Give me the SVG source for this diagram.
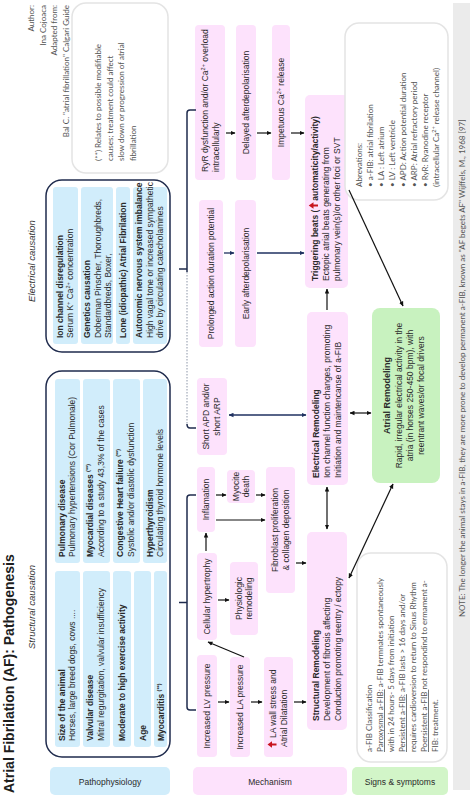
<svg xmlns="http://www.w3.org/2000/svg" width="474" height="797" viewBox="0 0 474 797">
<defs>
<style>
text{font-family:"Liberation Sans",Arial,sans-serif;fill:#2a2a2a}
.s{font-size:8.5px}
.b{font-weight:bold}
.g{font-family:Lato,"Liberation Sans",sans-serif;font-size:8px;fill:#555}
.ttl{font-size:14px;font-weight:bold;fill:#1e1e1e}
.lbl{font-size:9.5px;font-style:italic;fill:#333}
.strip{fill:#d1edfb}
.pk{fill:#fde2fc}
.cbox{fill:#fff;stroke:#1f2b4d;stroke-width:1.5}
.nbox{fill:#fff;stroke:#e4e4e4;stroke-width:1.5}
.sup{font-size:5.5px}
.c{text-anchor:middle}
.u{text-decoration:underline}
.ar{fill:none;stroke:#111;stroke-width:1.2;marker-end:url(#ah)}
.ar2{fill:none;stroke:#111;stroke-width:1.2;marker-end:url(#ah);marker-start:url(#ah)}
.nv{fill:none;stroke:#1f3160;stroke-width:1.3;marker-end:url(#an)}
.nv2{fill:none;stroke:#1f3160;stroke-width:1.3;marker-end:url(#an);marker-start:url(#an)}
.br{fill:none;stroke:#1f2b4d;stroke-width:1.5}
.dot{fill:none;stroke:#8d96a8;stroke-width:1;stroke-dasharray:1.5 1.5}
.up{fill:#c8141e}
</style>
<marker id="ah" viewBox="0 0 10 10" refX="9" refY="5" markerWidth="5" markerHeight="5" markerUnits="userSpaceOnUse" orient="auto-start-reverse"><path d="M0,0.5 L10,5 L0,9.5z" fill="#111"/></marker>
<marker id="an" viewBox="0 0 10 10" refX="9" refY="5" markerWidth="5" markerHeight="5" markerUnits="userSpaceOnUse" orient="auto-start-reverse"><path d="M0,0.5 L10,5 L0,9.5z" fill="#1f3160"/></marker>
</defs>
<rect width="474" height="797" fill="#fff"/>

<!-- main sheet, laid out left-to-right and turned a quarter turn counter-clockwise -->
<g transform="matrix(0,-1,1,0,0,797)">

<g id="title"><text x="4" y="14" class="ttl">Atrial Fibrilation (AF): Pathogenesis</text></g>
<g id="author" class="g">
<text x="792" y="34" text-anchor="end" class="g">Author:</text>
<text x="792" y="45.5" text-anchor="end" class="g">Ina Cojoaca</text>
<text x="792" y="57" text-anchor="end" class="g">Adapted from:</text>
<text x="792" y="68.5" text-anchor="end" class="g">Bal C. "atrial fibrillation" Calgari Guide</text>
</g>

<!-- structural causes -->
<g id="structural-causation">
<text x="190" y="35" class="lbl c">Structural causation</text>
<rect x="40" y="46" width="386" height="124" rx="16" class="cbox"/>
<rect x="50" y="55" width="176" height="25" rx="3" class="strip"/>
<text x="56" y="64.5" class="s b">Size of the animal</text>
<text x="56" y="75" class="s">Horses, large breed dogs, cows ....</text>
<rect x="50" y="83" width="176" height="27" rx="3" class="strip"/>
<text x="56" y="93" class="s b">Valvular disease</text>
<text x="56" y="104" class="s">Mitral regurgitation, valvular insufficiency</text>
<rect x="50" y="113" width="176" height="18" rx="3" class="strip"/>
<text x="56" y="125" class="s b">Moderate to high exercise activity</text>
<rect x="50" y="134" width="176" height="17" rx="3" class="strip"/>
<text x="56" y="145.5" class="s b">Age</text>
<rect x="50" y="154" width="176" height="13" rx="3" class="strip"/>
<text x="56" y="163.5" class="s b">Myocarditis <tspan class="sup" baseline-shift="super">(**)</tspan></text>

<rect x="234" y="55" width="184" height="25" rx="3" class="strip"/>
<text x="240" y="64.5" class="s b">Pulmonary disease</text>
<text x="240" y="75" class="s">Pulmonary hypertensions (Cor Pulmonale)</text>
<rect x="234" y="83" width="184" height="27" rx="3" class="strip"/>
<text x="240" y="93" class="s b">Myocardial diseases <tspan class="sup" baseline-shift="super">(**)</tspan></text>
<text x="240" y="104" class="s">According to a study 43,3% of the cases</text>
<rect x="234" y="113" width="184" height="27" rx="3" class="strip"/>
<text x="240" y="123" class="s b">Congestive Heart failure <tspan class="sup" baseline-shift="super">(**)</tspan></text>
<text x="240" y="134" class="s">Systolic and/or diastolic dysfunction</text>
<rect x="234" y="143" width="184" height="24" rx="3" class="strip"/>
<text x="240" y="152.5" class="s b">Hyperthyroidism</text>
<text x="240" y="163" class="s">Circulating thyroid hormone levels</text>
</g>

<!-- electrical causes -->
<g id="electrical-causation">
<text x="536" y="35" class="lbl c">Electrical causation</text>
<rect x="445" y="46" width="172" height="124" rx="16" class="cbox"/>
<rect x="453" y="53" width="157" height="25" rx="3" class="strip"/>
<text x="459" y="62.5" class="s b">Ion channel disregulation</text>
<text x="459" y="73" class="s">Serum K<tspan class="sup" baseline-shift="super">+</tspan> Ca<tspan class="sup" baseline-shift="super">2+</tspan> concentration</text>
<rect x="453" y="81" width="157" height="32" rx="3" class="strip"/>
<text x="459" y="90" class="s b">Genetics causation</text>
<text x="459" y="100.5" class="s">Doberman Pinscher, Thoroughbreds,</text>
<text x="459" y="110.5" class="s">Standardbreds, Boxer,</text>
<rect x="453" y="116" width="157" height="14" rx="3" class="strip"/>
<text x="459" y="126" class="s b">Lone (idiopathic) Atrial Fibrilation</text>
<rect x="453" y="133" width="157" height="34" rx="3" class="strip"/>
<text x="459" y="142" class="s b">Autonomic nervous system imbalance</text>
<text x="459" y="152.5" class="s">High vagal tone or increased sympathetic</text>
<text x="459" y="163" class="s">drive by circulating catecholamines</text>
</g>

<g id="modifiable-note">
<rect x="624" y="72" width="170" height="96" rx="14" class="nbox"/>
<text x="636" y="101" class="g">(**) Relates to possible modifiable</text>
<text x="636" y="112.5" class="g">causes; treatment could affect</text>
<text x="636" y="124" class="g">slow down or progression of atrial</text>
<text x="636" y="135.5" class="g">fibrillation</text>
</g>

<!-- mechanism boxes -->
<g id="lv-pressure"><rect x="40" y="197" width="102" height="20" rx="4" class="pk"/><text x="91" y="210" class="s c">Increased LV pressure</text></g>
<g id="la-pressure"><rect x="40" y="230" width="100" height="20" rx="4" class="pk"/><text x="90" y="243" class="s c">Increased LA pressure</text></g>
<g id="la-wall-stress"><rect x="40" y="264" width="100" height="29" rx="4" class="pk"/>
<path class="up" d="M51.5,276.5 h2 v-4.5 h2.2 l-3.2,-4.5 l-3.2,4.5 h2.2z"/>
<text x="59" y="276" class="s">LA wall stress and</text><text x="50" y="287" class="s">Atrial Dilatation</text></g>
<g id="cellular-hypertrophy"><rect x="157" y="197" width="87" height="20" rx="4" class="pk"/><text x="200.5" y="210" class="s c">Cellular hypertrophy</text></g>
<g id="physiologic-remodeling"><rect x="162" y="230" width="73" height="28" rx="4" class="pk"/><text x="198.5" y="241.5" class="s c">Physiologic</text><text x="198.5" y="252" class="s c">remodeling</text></g>
<g id="inflamation"><rect x="265" y="197" width="65" height="18" rx="4" class="pk"/><text x="297.5" y="209" class="s c">Inflamation</text></g>
<g id="myocite-death"><rect x="294" y="227" width="33" height="28" rx="4" class="pk"/><text x="310.5" y="238.5" class="s c">Myocite</text><text x="310.5" y="249" class="s c">death</text></g>
<g id="fibroblast"><rect x="204" y="266" width="126" height="29" rx="4" class="pk"/><text x="267" y="278" class="s c">Fibroblast proliferation</text><text x="267" y="289" class="s c">&amp; collagen deposition</text></g>
<g id="short-apd"><rect x="342" y="197" width="77" height="30" rx="4" class="pk"/><text x="380.5" y="209" class="s c">Short APD and/or</text><text x="380.5" y="220" class="s c">short ARP</text></g>
<g id="prolonged-ap"><rect x="450" y="199" width="147" height="24" rx="4" class="pk"/><text x="523.5" y="214" class="s c">Prolonged action duration potential</text></g>
<g id="early-ad"><rect x="450" y="235" width="147" height="21" rx="4" class="pk"/><text x="523.5" y="248.5" class="s c">Early afterdepolarisation</text></g>
<g id="ryr"><rect x="617" y="195" width="155" height="30" rx="4" class="pk"/><text x="625" y="207.5" class="s">RyR dysfunction and/or Ca<tspan class="sup" baseline-shift="super">2+</tspan> overload</text><text x="625" y="218.5" class="s">intracellularly</text></g>
<g id="delayed-ad"><rect x="617" y="236" width="155" height="20" rx="4" class="pk"/><text x="694.5" y="249" class="s c">Delayed afterdepolarisation</text></g>
<g id="ca-release"><rect x="617" y="272" width="155" height="18" rx="4" class="pk"/><text x="694.5" y="284" class="s c">Impetuous Ca<tspan class="sup" baseline-shift="super">2+</tspan> release</text></g>

<g id="triggering"><rect x="509" y="305" width="193" height="43" rx="5" class="pk"/>
<text x="516" y="317.5" class="s b">Triggering beats (<tspan dx="9">automaticity/activity)</tspan></text>
<path class="up" d="M590.5,318 h2 v-4.5 h2.2 l-3.2,-4.8 l-3.2,4.8 h2.2z"/>
<text x="516" y="329" class="s">Ectopic atrial beats generating from</text>
<text x="516" y="340" class="s">pulmonary vein(s)/or other foci or SVT</text></g>
<g id="electrical-remodeling"><rect x="312" y="307" width="173" height="41" rx="5" class="pk"/>
<text x="319" y="318.5" class="s b">Electrical Remodeling</text>
<text x="319" y="330" class="s">Ion channel function changes, promoting</text>
<text x="319" y="341" class="s">Initiation and maintencanse of a-FIB</text></g>
<g id="structural-remodeling"><rect x="67" y="307" width="198" height="40" rx="5" class="pk"/>
<text x="76" y="318.5" class="s b">Structural Remodeling</text>
<text x="76" y="330" class="s">Development of fibrosis affecting</text>
<text x="76" y="341" class="s">Conduction promoting reentry / ectopy</text></g>

<g id="atrial-remodeling"><rect x="314" y="372" width="175" height="68" rx="8" fill="#c8f2bf"/>
<text x="401.5" y="390" class="c b" font-size="9">Atrial Remodeling</text>
<text x="401.5" y="402" class="s c">Rapid, irregular electrical activity in the</text>
<text x="401.5" y="413" class="s c">atria (in horses 250-450 bpm), with</text>
<text x="401.5" y="424" class="s c">reentrant waves/or focal drivers</text></g>

<g id="abbreviations"><rect x="597" y="345" width="177" height="103" rx="14" class="nbox"/>
<text x="610" y="362" class="g">Abrevations:</text>
<text x="610" y="373" class="g">• a-FIB: atrial fibrilation</text>
<text x="610" y="384" class="g">• LA : Left atrium</text>
<text x="610" y="395" class="g">• LV : Left ventricle</text>
<text x="610" y="406" class="g">• APD: Action potential duration</text>
<text x="610" y="417" class="g">• ARP: Atrial refractory period</text>
<text x="610" y="428" class="g">• RyR: Ryanodine receptor</text>
<text x="610" y="439" class="g">(intracellular Ca<tspan class="sup" baseline-shift="super">2+</tspan> release channel)</text></g>

<g id="afib-classification"><rect x="35" y="357" width="209" height="90" rx="14" class="nbox"/>
<text x="45" y="372" class="g">a-FIB Classification</text>
<text x="45" y="383" class="g"><tspan class="u">Paroxysmal a-FIB:</tspan> a-FIB termnates spontaneously</text>
<text x="45" y="394" class="g">with in 24 hours- 5 days from initiation</text>
<text x="45" y="405" class="g"><tspan class="u">Persistent a-FIB:</tspan> a-FIB lasts &gt; 16 days and/or</text>
<text x="45" y="416" class="g">requires cardioversion to return to Sinus Rhythm</text>
<text x="45" y="427" class="g"><tspan class="u">Poersistent a-FIB </tspan>not respondind to ermament a-</text>
<text x="45" y="438" class="g">FIB: treatment.</text></g>

<g id="note-strip"><rect x="7" y="453" width="787" height="17" fill="#ebebeb"/>
<text x="180" y="464.5" class="g" font-size="7.8">NOTE: The longer the animal stays in a-FIB, they are more prone to develop permanent a-FIB, known as "AF begets AF" Wijffels, M., 1968 [97]</text></g>

<!-- connectors -->
<g id="connectors">
<path class="br" d="M687,196 V190 Q687,187 684,187 H525"/>
<path class="br" d="M528,187 V179"/>
<path class="dot" d="M525,187 H373"/>
<path class="br" d="M373,187 Q369,187 369,190 V196"/>
<path class="br" d="M302,196 V190 Q302,187 299,187 H90 Q87,187 87,190 V196"/>
<path class="br" d="M194.5,187 V179"/>

<path class="ar" d="M95,218 V229"/>
<path class="ar" d="M95,251 V262"/>
<path class="ar" d="M95,294 V306"/>
<path class="ar" d="M140,244 L155,208"/>
<path class="ar" d="M197,218 V229"/>
<path class="ar" d="M246,206 H264"/>
<path class="ar" d="M302,216 V226"/>
<path class="ar" d="M302,256 V265"/>
<path class="ar" d="M277,216 V265"/>
<path class="ar" d="M234,296 V306"/>
<path class="nv2" d="M382,229 V306"/>
<path class="nv" d="M544,224 V234"/>
<path class="nv" d="M544,257 V304"/>
<path class="ar" d="M664,226 V235"/>
<path class="ar" d="M664,257 V271"/>
<path class="ar" d="M664,291 V304"/>
<path class="ar" d="M487,327 H508"/>
<path class="ar2" d="M268,327 H310"/>
<path class="ar2" d="M384,350 V371"/>
<path class="ar" d="M607,349 L491,403"/>
<path class="ar2" d="M219,349 L313,393"/>
</g>
</g>

<!-- column legend along the foot -->
<g id="legend-pathophysiology"><rect x="50" y="767" width="120" height="28" rx="5" fill="#d1edfb"/><text x="110" y="784.5" class="c" font-size="8.5">Pathophysiology</text></g>
<g id="legend-mechanism"><rect x="193" y="767" width="154" height="28" rx="5" fill="#fde2fc"/><text x="270" y="784.5" class="c" font-size="8.5">Mechanism</text></g>
<g id="legend-signs"><rect x="352" y="767" width="96" height="28" rx="5" fill="#d2f5c8"/><text x="400" y="784.5" class="c" font-size="8.5">Signs &amp; symptoms</text></g>
</svg>
